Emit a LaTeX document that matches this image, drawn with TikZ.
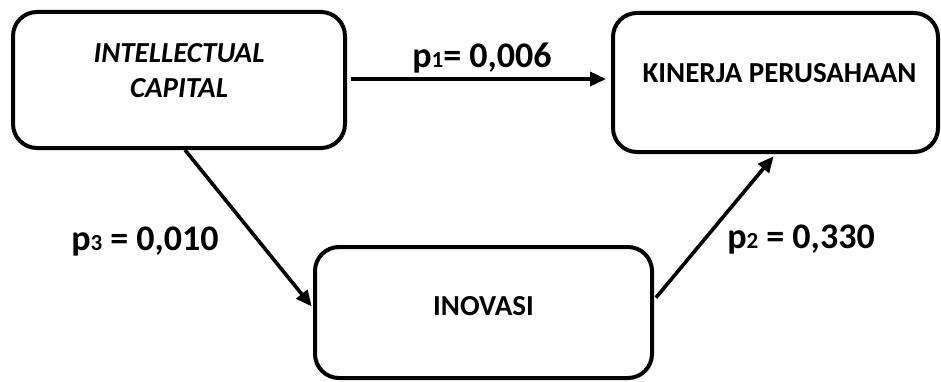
\documentclass[tikz,border=0pt]{standalone}
\usepackage{fontspec}
\setmainfont{Carlito}
\usetikzlibrary{arrows.meta}
\tikzset{
  box/.style={draw=black, line width=4pt, rounded corners=24pt, inner sep=0pt},
  boxtext/.style={font=\fontsize{29}{35}\selectfont\bfseries, align=center, inner sep=0pt},
  arr/.style={line width=3.6pt, -{Triangle[length=16pt,width=14pt]}},
  plabel/.style={font=\fontsize{36}{40}\selectfont\bfseries, inner sep=0pt, anchor=base}
}
\newcommand{\sub}[1]{{\fontsize{23}{23}\selectfont #1}}
\begin{document}
\begin{tikzpicture}[x=1pt,y=1pt]
\useasboundingbox (0,0) rectangle (941,381);
\node[box, minimum width=332pt, minimum height=136pt,
  label={[boxtext, yshift=9pt]center:{\itshape INTELLECTUAL\\\itshape CAPITAL}}] (ic) at (179,301) {};
\node[box, minimum width=325pt, minimum height=139pt,
  label={[boxtext, yshift=9pt, xshift=4pt]center:KINERJA PERUSAHAAN}] (kp) at (775.5,298.5) {};
\node[box, minimum width=337pt, minimum height=131pt,
  label={[boxtext, yshift=6.5pt]center:INOVASI}] (ino) at (483.5,68.5) {};
\draw[arr, shorten <=4pt, shorten >=5pt] ([yshift=1pt]ic.east) -- ([yshift=1pt]ic.east -| kp.west);
\draw[arr, shorten >=2pt] ([xshift=6pt]ic.south) -- ([yshift=4.5pt]ino.west);
\draw[arr, shorten <=3pt, shorten >=3pt] ([yshift=12.5pt]ino.east) -- (kp.south);
\node[plabel] (l1) at (482,313) {p\sub{1}= 0,006};
\node[plabel] (l3) at (145,131) {p\sub{3} = 0,010};
\node[plabel] (l2) at (801,133) {p\sub{2} = 0,330};
\end{tikzpicture}
\end{document}
